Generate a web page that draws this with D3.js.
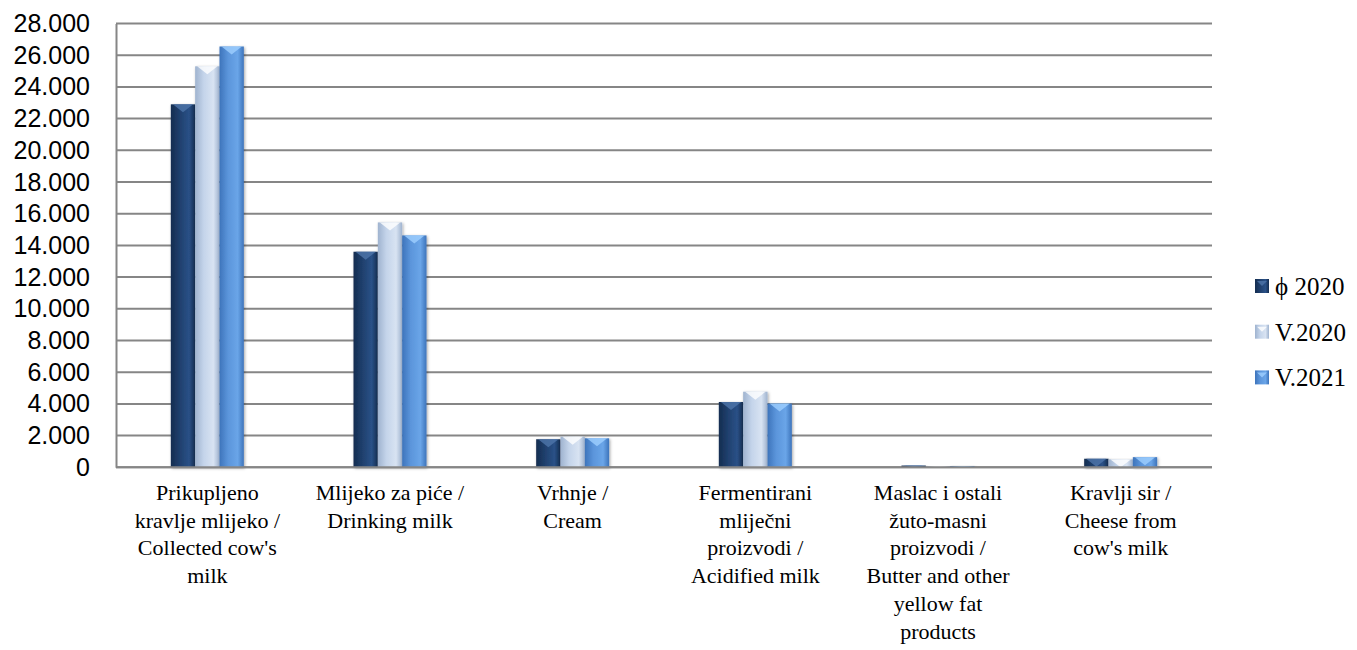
<!DOCTYPE html>
<html>
<head>
<meta charset="utf-8">
<script src="https://cdn.jsdelivr.net/npm/d3@7"></script>
<style>
  body { margin: 0; background: #fff; }
  svg { display: block; }
</style>
</head>
<body>
<svg id="chart" width="1357" height="650"></svg>
<script>
// categories (lines of each label)
var categories = [
  ["Prikupljeno", "kravlje mlijeko /", "Collected cow's", "milk"],
  ["Mlijeko za piće /", "Drinking milk"],
  ["Vrhnje /", "Cream"],
  ["Fermentirani", "mliječni", "proizvodi /", "Acidified milk"],
  ["Maslac i ostali", "žuto-masni", "proizvodi /", "Butter and other", "yellow fat", "products"],
  ["Kravlji sir /", "Cheese from", "cow's milk"]
];
var seriesNames = ["ϕ 2020", "V.2020", "V.2021"];
var avg2020 = [22900, 13600, 1770, 4120, 110, 540];
var may2020 = [25300, 15450, 1930, 4770, 60, 500];
var may2021 = [26550, 14630, 1830, 4020, 80, 640];
var yTicks = [0, 2000, 4000, 6000, 8000, 10000, 12000, 14000, 16000, 18000, 20000, 22000, 24000, 26000, 28000];

var series = [avg2020, may2020, may2021];
var colors = [
  {dark: "#142d50", mid: "#1f3f6c", light: "#2a5187", cap: "#4f76aa"},
  {dark: "#9fb3cf", mid: "#c4d4ea", light: "#d8e3f2", cap: "#ffffff"},
  {dark: "#3d74bb", mid: "#5b95db", light: "#6aa5e8", cap: "#9fd0ff"}
];

var svg = d3.select("#chart");
var plotL = 116, plotR = 1212, plotT = 23.5, plotB = 467.3;

var x = d3.scaleBand().domain(d3.range(categories.length)).range([plotL, plotR]).padding(0);
var xs = d3.scaleBand().domain(d3.range(series.length)).range([-36.5, 36.5]).padding(0);
var y = d3.scaleLinear().domain([0, 28000]).range([plotB, plotT]);

var defs = svg.append("defs");
colors.forEach(function(c, i) {
  var g = defs.append("linearGradient").attr("id", "grad" + i).attr("x1", 0).attr("x2", 1).attr("y1", 0).attr("y2", 0);
  g.append("stop").attr("offset", "0%").attr("stop-color", c.dark);
  g.append("stop").attr("offset", "35%").attr("stop-color", c.mid);
  g.append("stop").attr("offset", "75%").attr("stop-color", c.light);
  g.append("stop").attr("offset", "100%").attr("stop-color", c.dark);
});
var f = defs.append("filter").attr("id", "shadow").attr("x", "-30%").attr("y", "-10%").attr("width", "160%").attr("height", "130%");
f.append("feDropShadow").attr("dx", 1).attr("dy", 1).attr("stdDeviation", 1.5).attr("flood-color", "#000").attr("flood-opacity", 0.35);

// gridlines
svg.append("g").selectAll("line").data(yTicks).enter().append("line")
  .attr("x1", plotL).attr("x2", plotR)
  .attr("y1", function(d) { return y(d); }).attr("y2", function(d) { return y(d); })
  .style("stroke", "#868686").style("stroke-width", 2);

// y axis
var yAxis = svg.append("g").attr("transform", "translate(" + plotL + ",0)")
  .call(d3.axisLeft(y).tickValues(yTicks).tickSize(0).tickPadding(26)
    .tickFormat(function(d) { return d3.format(",")(d).replace(/,/g, "."); }));
yAxis.select(".domain").style("stroke", "#868686").style("stroke-width", 2);
yAxis.selectAll("text").style("font-family", "'Liberation Sans', Arial, sans-serif")
  .style("font-size", "25px").style("fill", "#000");

// bars
var groups = svg.append("g").selectAll("g").data(categories).enter().append("g")
  .attr("transform", function(d, i) { return "translate(" + (x(i) + x.bandwidth() / 2) + ",0)"; });

series.forEach(function(s, si) {
  var bw = xs.bandwidth();
  groups.append("rect")
    .attr("x", xs(si)).attr("width", bw)
    .attr("y", function(d, i) { return y(s[i]); })
    .attr("height", function(d, i) { return plotB - y(s[i]); })
    .attr("fill", "url(#grad" + si + ")")
    .attr("filter", "url(#shadow)");
  groups.append("path")
    .attr("d", function(d, i) {
      var t = y(s[i]), h = Math.min(8, plotB - t);
      return "M" + (xs(si) + 2) + "," + t + "L" + (xs(si) + bw - 2) + "," + t + "L" + (xs(si) + bw / 2) + "," + (t + h) + "Z";
    })
    .attr("fill", colors[si].cap).attr("opacity", 0.8);
});

// x axis line
svg.append("line").attr("x1", plotL).attr("x2", plotR).attr("y1", plotB).attr("y2", plotB)
  .style("stroke", "#868686").style("stroke-width", 2);

// category labels
groups.append("text")
  .attr("text-anchor", "middle")
  .style("font-family", "'Liberation Serif', 'Times New Roman', serif")
  .style("font-size", "22px")
  .style("fill", "#000")
  .selectAll("tspan").data(function(d) { return d; }).enter().append("tspan")
  .attr("x", 0)
  .attr("y", function(d, i) { return 500 + i * 27.7; })
  .text(function(d) { return d; });

// legend
var legend = svg.append("g").selectAll("g").data(seriesNames).enter().append("g")
  .attr("transform", function(d, i) { return "translate(1255," + (286 + i * 45.7) + ")"; });
legend.append("rect").attr("x", 0).attr("y", -7).attr("width", 14).attr("height", 14)
  .attr("fill", function(d, i) { return "url(#grad" + i + ")"; });
legend.append("path").attr("d", "M2,-5L12,-5L7,0Z")
  .attr("fill", function(d, i) { return colors[i].cap; }).attr("opacity", 0.8);
legend.append("text").attr("x", 20).attr("y", 9)
  .style("font-family", "'Liberation Serif', 'Times New Roman', serif")
  .style("font-size", "25px").style("fill", "#000")
  .text(function(d) { return d; });
</script>
</body>
</html>
